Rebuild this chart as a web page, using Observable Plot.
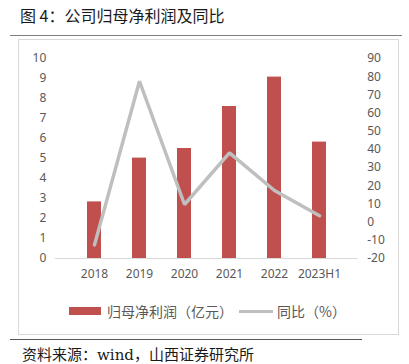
<!DOCTYPE html>
<html>
<head>
<meta charset="utf-8">
<script src="https://cdn.jsdelivr.net/npm/d3@7"></script>
<script src="https://cdn.jsdelivr.net/npm/@observablehq/plot@0.6"></script>
<style>
  html, body { margin: 0; padding: 0; background: #fff; }
  body { width: 409px; height: 364px; position: relative; overflow: hidden; font-family: "Noto Sans CJK SC", "Noto Sans", sans-serif; }
  #title { position: absolute; left: 20px; top: 4px; font-size: 16px; color: #1a1a1a; white-space: nowrap; line-height: 22px; }
  #tline { position: absolute; left: 10px; top: 35px; width: 392px; height: 0; border-top: 1.5px solid #7f7f7f; }
  #box { position: absolute; left: 18px; top: 39px; width: 379px; height: 294px; border: 1px solid #d9d9d9; }
  #chart { position: absolute; left: 0; top: 0; }
  #legend { position: absolute; left: 69px; top: 301px; font-size: 14px; color: #595959; white-space: nowrap; line-height: 20px; display: flex; align-items: center; }
  .sw-bar { display: inline-block; width: 32px; height: 8px; background: #c0504d; margin-right: 6px; }
  .sw-line { display: inline-block; width: 34px; height: 0; border-top: 3.5px solid #bfbfbf; margin: 0 4px 0 6px; }
  #bline { position: absolute; left: 10px; top: 339px; width: 352px; height: 0; border-top: 1.5px solid #595959; }
  #caption { position: absolute; left: 22px; top: 344px; font-size: 15px; color: #1a1a1a; white-space: nowrap; line-height: 22px; font-family: "DejaVu Serif", "Noto Sans CJK SC", serif; }
</style>
</head>
<body>
<div id="title">图 4：公司归母净利润及同比</div>
<div id="tline"></div>
<div id="box"></div>
<div id="chart"></div>
<div id="legend"><span class="sw-bar"></span><span>归母净利润（亿元）</span><span class="sw-line"></span><span>同比（%）</span></div>
<div id="bline"></div>
<div id="caption">资料来源：wind，山西证券研究所</div>
<script>
const years = ["2018", "2019", "2020", "2021", "2022", "2023H1"];
const profit = [2.83, 5.02, 5.5, 7.6, 9.07, 5.82];
const yoy = [-12.5, 77.5, 9.7, 38.1, 17.4, 3.5];
const leftTicks = [0, 1, 2, 3, 4, 5, 6, 7, 8, 9, 10];
const rightTicks = [-20, -10, 0, 10, 20, 30, 40, 50, 60, 70, 80, 90];

// map right axis (-20..90) onto left scale (0..10)
const rMin = -20, rMax = 90;
const toLeft = v => (v - rMin) / (rMax - rMin) * 10;

const rows = years.map((y, i) => ({year: y, profit: profit[i], yoy: yoy[i], yoyL: toLeft(yoy[i])}));

const chart = Plot.plot({
  width: 409,
  height: 300,
  marginTop: 58,
  marginBottom: 42,
  marginLeft: 54.75,
  marginRight: 51.25,
  style: {fontFamily: "'Noto Sans', 'DejaVu Sans', sans-serif", fontSize: "12px", color: "#595959", background: "transparent"},
  x: {domain: years, padding: 0.68, label: null},
  y: {domain: [0, 10], label: null},
  marks: [
    Plot.axisY({ticks: leftTicks, tickSize: 0, tickPadding: 9, label: null, fill: "#595959"}),
    Plot.axisY({anchor: "right", ticks: rightTicks.map(toLeft), tickFormat: (d) => String(Math.round(d / 10 * (rMax - rMin) + rMin)), tickSize: 0, tickPadding: 9, label: null, fill: "#595959"}),
    Plot.axisX({tickSize: 0, tickPadding: 11, label: null, fill: "#595959"}),
    Plot.barY(rows, {x: "year", y: "profit", fill: "#c0504d"}),
    Plot.ruleY([0], {stroke: "#d9d9d9", strokeWidth: 1}),
    Plot.line(rows, {x: "year", y: "yoyL", stroke: "#bfbfbf", strokeWidth: 3.5, strokeLinejoin: "miter"})
  ]
});
document.getElementById("chart").appendChild(chart);
</script>
</body>
</html>
